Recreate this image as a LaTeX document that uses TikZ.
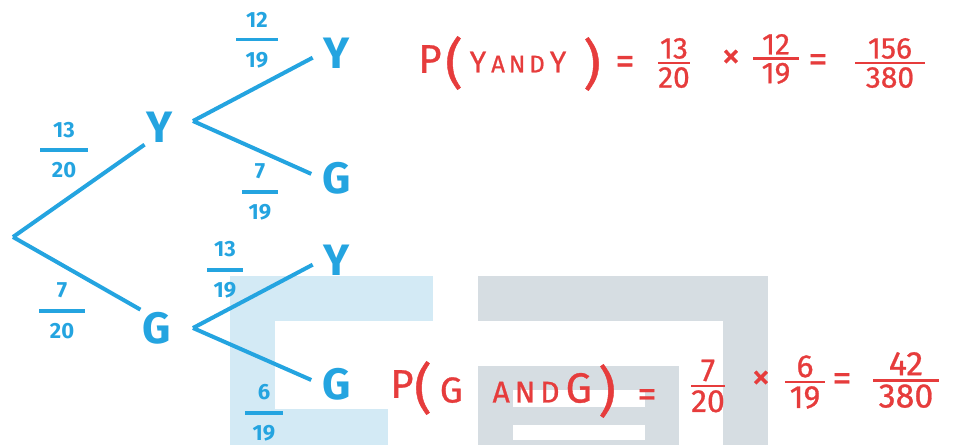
\documentclass[tikz,border=0pt]{standalone}
\usepackage{amsmath}
\usepackage{fontspec}
\setmainfont{Fira Sans}
\newfontfamily\penfont{Fira Sans}[FakeBold=0.8]
\usepackage{tikz}
\usetikzlibrary{positioning}

\definecolor{inkblue}{HTML}{24A4E0}
\definecolor{inkred}{HTML}{E63C3C}
\definecolor{markblue}{HTML}{D3EAF5}
\definecolor{markgrey}{HTML}{D6DDE2}

\newlength{\barwd}
\def\fracsty{0}
\newcommand{\probfrac}[3]{$\genfrac{}{}{\barwd}{\fracsty}{\makebox[#1]{#2}}{\makebox[#1]{#3}}$}

\begin{document}
\begin{tikzpicture}[
    x=0.5pt, y=-0.5pt,
    branch/.style={draw=inkblue, line width=2pt},
    letter/.style={text=inkblue, font=\bfseries\fontsize{22}{22}\selectfont, inner sep=1pt},
    prob/.style={text=inkblue, font=\bfseries\fontsize{11}{12}\selectfont\setlength{\barwd}{1.8pt}, inner sep=0pt},
    redtxt/.style={text=inkred, font=\penfont\fontsize{14}{16}\selectfont, inner sep=0pt},
    redsign/.style={text=inkred, font=\penfont\fontsize{19}{19}\selectfont, inner sep=0pt},
    redfrac/.style={text=inkred, font=\penfont\fontsize{15}{16}\selectfont\setlength{\barwd}{1.4pt}\def\fracsty{1}, inner sep=0pt},
]
\useasboundingbox (0,0) rectangle (955,445);

% watermark
\fill[markblue] (230,276) rectangle (275,445);
\fill[markblue] (230,276) rectangle (433,321);
\fill[markblue] (230,409) rectangle (388,445);
\fill[markgrey] (478,276) rectangle (768,321);
\fill[markgrey] (723,276) rectangle (768,445);
\fill[markgrey] (478,366) rectangle (679,445);
\fill[white] (513,390) rectangle (645,407);
\fill[white] (513,425) rectangle (645,440);

% tree
\coordinate (root) at (13,237);
\node[letter] (y1) at (160,127) {Y};
\node[letter] (g1) at (157,328) {G};
\coordinate (yfork) at (193,121);
\coordinate (gfork) at (193,328);
\node[letter] (yy) at (337,53) {Y};
\node[letter] (yg) at (337,178) {G};
\node[letter] (gy) at (337,260) {Y};
\node[letter] (gg) at (337,384) {G};

\draw[branch] (root) -- (y1.south west);
\draw[branch] (root) -- (g1.north west);
\draw[branch, shorten >=5pt] (yfork) -- (yy.west);
\draw[branch, shorten >=5pt] (yfork) -- (yg.west);
\draw[branch, shorten >=5pt] (gfork) -- (gy.west);
\draw[branch, shorten >=5pt] (gfork) -- (gg.west);

\node[prob] (pY) at (64,150) {\probfrac{24pt}{13}{20}};
\node[prob] (pG) at (62,311) {\probfrac{23pt}{7}{20}};
\node[prob] (pYY) at (257,40) {\probfrac{21pt}{12}{19}};
\node[prob] (pYG) at (260,192) {\probfrac{18pt}{7}{19}};
\node[prob] (pGY) at (225,270) {\probfrac{18pt}{13}{19}};
\node[prob] (pGG) at (264,413) {\probfrac{19pt}{6}{19}};

% working for Y and Y
\node[redtxt, font=\penfont\fontsize{20}{20}\selectfont] (pY1) at (430,59) {P};
\node[redtxt, font=\penfont\fontsize{27}{27}\selectfont] (opY) at (454,63) {(};
\node[redtxt, font=\penfont\fontsize{15}{15}\selectfont] (andY) at (518,62) {Y\,{\fontsize{12}{12}\selectfont A\,N\,D}\,Y};
\node[redtxt, font=\penfont\fontsize{27}{27}\selectfont] (clY) at (592,64) {)};
\node[redsign] (eqY1) at (625,65) {=};
\node[redfrac] (fY1) at (674,63) {\probfrac{16pt}{13}{20}};
\node[redsign] (xY) at (731,59) {×};
\node[redfrac] (fY2) at (776,59) {\probfrac{23pt}{12}{19}};
\node[redsign] (eqY2) at (818,63) {=};
\node[redfrac] (fY3) at (890,63) {\probfrac{35pt}{156}{380}};

% working for G and G
\node[redtxt, font=\penfont\fontsize{20}{20}\selectfont] (pG1) at (402,384) {P};
\node[redtxt, font=\penfont\fontsize{27}{27}\selectfont] (opG) at (423,388) {(};
\node[redtxt, font=\penfont\fontsize{18}{18}\selectfont] (andG) at (516,388) {G\;\;\;{\fontsize{15}{15}\selectfont A\,N\,D}\,{\fontsize{21}{21}\selectfont G}};
\node[redtxt, font=\penfont\fontsize{27}{27}\selectfont] (clG) at (607,391) {)};
\node[redsign] (eqG1) at (647,398) {=};
\node[redfrac, font=\penfont\fontsize{16}{16}\selectfont\setlength{\barwd}{1.4pt}\def\fracsty{1}] (fG1) at (708,386) {\probfrac{17pt}{7}{20}};
\node[redsign] (xG) at (761,380) {×};
\node[redfrac, font=\penfont\fontsize{16}{16}\selectfont\setlength{\barwd}{1.4pt}\def\fracsty{1}] (fG2) at (805,382) {\probfrac{20pt}{6}{19}};
\node[redsign] (eqG2) at (842,382) {=};
\node[redfrac, font=\penfont\fontsize{17}{17}\selectfont\setlength{\barwd}{1.4pt}\def\fracsty{1}] (fG3) at (906,380) {\probfrac{33pt}{42}{380}};

\end{tikzpicture}
\end{document}
